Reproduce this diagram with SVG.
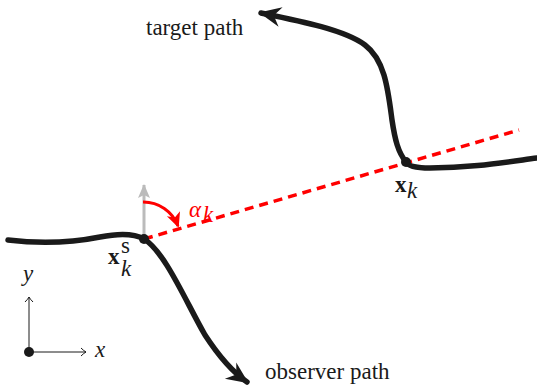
<svg xmlns="http://www.w3.org/2000/svg" width="537" height="386" viewBox="0 0 537 386">
<style>
.path{fill:none;stroke:#1a1a1a;stroke-width:5.5;stroke-linecap:round}
.dot{fill:#1a1a1a}
.lbl{font-family:"Liberation Serif","Times New Roman",serif;font-size:23px;fill:#1a1a1a}
.it{font-style:italic}
.bf{font-weight:bold}
.axis{fill:none;stroke:#1a1a1a;stroke-width:1}
</style>
<defs>
<marker id="blk" markerUnits="userSpaceOnUse" markerWidth="26" markerHeight="26" viewBox="-22 -12 26 24" refX="0" refY="0" orient="auto">
<path d="M2,0 L-20,-10 L-13,0 L-20,10 Z" fill="#1a1a1a"/>
</marker>
<marker id="red" markerUnits="userSpaceOnUse" markerWidth="20" markerHeight="20" viewBox="-16 -10 20 20" refX="0" refY="0" orient="auto">
<path d="M2,0 L-13,-7 L-9,0 L-13,7 Z" fill="#ff0000"/>
</marker>
<marker id="gry" markerUnits="userSpaceOnUse" markerWidth="20" markerHeight="20" viewBox="-16 -10 20 20" refX="0" refY="0" orient="auto">
<path d="M1,0 L-13,-6 L-10,0 L-13,6 Z" fill="#bbbbbb"/>
</marker>
<marker id="thin" markerUnits="userSpaceOnUse" markerWidth="12" markerHeight="12" viewBox="-8 -6 10 12" refX="0" refY="0" orient="auto">
<path d="M-5,-4 Q-2,-1 0,0 Q-2,1 -5,4" fill="none" stroke="#1a1a1a" stroke-width="1"/>
</marker>
</defs>
<g id="connectors">
<path id="los" d="M144,239 L519,130" fill="none" stroke="#ff0000" stroke-width="3.5" stroke-dasharray="9,6"/>
<path id="heading" d="M144,237 L144,185" fill="none" stroke="#bbbbbb" stroke-width="3" marker-end="url(#gry)"/>
<path id="angle" d="M143,202 A37,37 0 0 1 178,226" fill="none" stroke="#ff0000" stroke-width="3" marker-end="url(#red)"/>
<path id="y-axis" class="axis" d="M29,352 L29,297" marker-end="url(#thin)"/>
<path id="x-axis" class="axis" d="M29,352 L86,352" marker-end="url(#thin)"/>
</g>
<g id="observer-path">
<path class="path" d="M8,240 C40,244 70,243 100,237 C120,233 135,234 144,239 C165,252 185,300 205,335 C220,358 234,373 247,382" marker-end="url(#blk)"/>
<text class="lbl" x="265" y="379">observer path</text>
</g>
<g id="target-path">
<path class="path" d="M537,158 C500,163 470,168 430,168 C415,168 408,166 406,162 C398,152 395,140 392,120 C388,90 385,60 365,45 C345,30 300,21 261,13" marker-end="url(#blk)"/>
<text class="lbl" x="146" y="35">target path</text>
</g>
<g id="sensor">
<circle class="dot" cx="144" cy="239" r="5"/>
<text class="lbl bf" x="108" y="264">x</text>
<text class="lbl" x="121" y="253" font-size="15">s</text>
<text class="lbl it" x="121" y="276" font-size="17">k</text>
</g>
<g id="target">
<circle class="dot" cx="406" cy="162" r="5"/>
<text class="lbl bf" x="395" y="192">x</text>
<text class="lbl it" x="407" y="198" font-size="17">k</text>
</g>
<g id="alpha">
<text class="lbl it" x="189" y="217" style="fill:#ff0000">α</text>
<text class="lbl it" x="203" y="222" font-size="17" style="fill:#ff0000">k</text>
</g>
<g id="frame">
<circle class="dot" cx="29" cy="352" r="5"/>
<text class="lbl it" x="23" y="281">y</text>
<text class="lbl it" x="95" y="357">x</text>
</g>
</svg>
